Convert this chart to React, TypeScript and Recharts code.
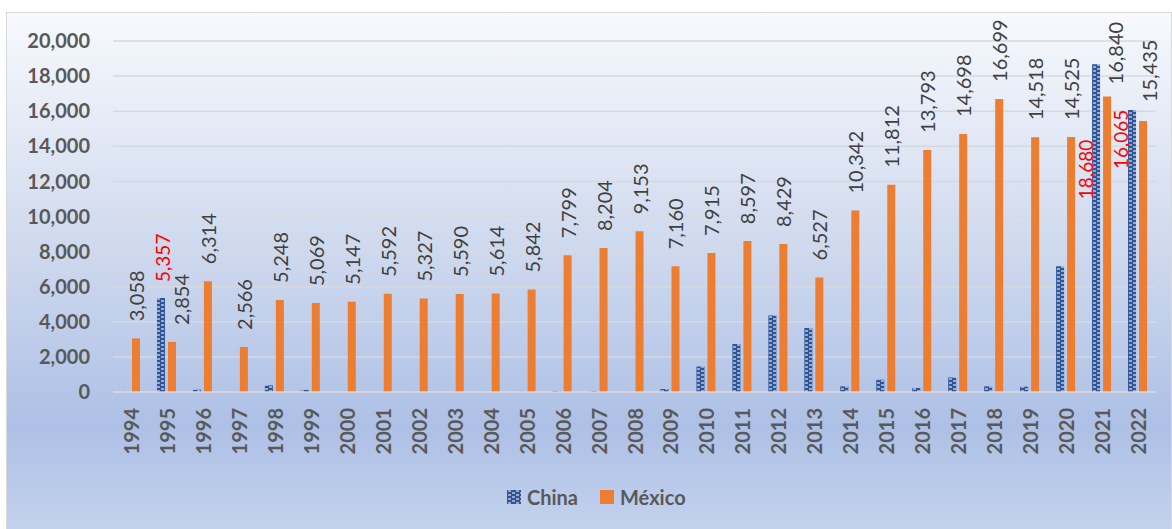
import React from 'react';
import { BarChart, Bar, XAxis, YAxis, CartesianGrid, LabelList, Legend } from 'recharts';

// Annual values, 1994–2022
const years = [
  '1994', '1995', '1996', '1997', '1998', '1999', '2000', '2001', '2002', '2003',
  '2004', '2005', '2006', '2007', '2008', '2009', '2010', '2011', '2012', '2013',
  '2014', '2015', '2016', '2017', '2018', '2019', '2020', '2021', '2022',
];

const china = [
  20, 5357, 130, 10, 380, 120, 0, 0, 10, 5,
  5, 10, 60, 60, 10, 170, 1450, 2735, 4365, 3650,
  320, 700, 230, 830, 320, 300, 7160, 18680, 16065,
];

const mexico = [
  3058, 2854, 6314, 2566, 5248, 5069, 5147, 5592, 5327, 5590,
  5614, 5842, 7799, 8204, 9153, 7160, 7915, 8597, 8429, 6527,
  10342, 11812, 13793, 14698, 16699, 14518, 14525, 16840, 15435,
];

const yTicks = [0, 2000, 4000, 6000, 8000, 10000, 12000, 14000, 16000, 18000, 20000];

// Years whose China value is annotated in red
const chinaLabelled = ['1995', '2021', '2022'];

const data = years.map((year, i) => ({
  year,
  china: china[i],
  mexico: mexico[i],
  chinaNote: chinaLabelled.includes(year) ? year : null,
}));

const FONT = 'Lato, "Noto Sans", sans-serif';
const BLUE = '#2F5597';
const ORANGE = '#ED7D31';

const fmt = (v: number) => v.toLocaleString('en-US');

// Placement of the red annotations relative to the top centre of each bar
const chinaLabelOffset: Record<string, { dx: number; dy: number }> = {
  '1995': { dx: 2, dy: -16 },
  '2021': { dx: -11, dy: 135 },
  '2022': { dx: -12, dy: 59 },
};

// México labels nudged sideways where a red annotation sits next to them
const mexicoLabelOffset: Record<string, { dx: number; dy: number }> = {
  '1995': { dx: 9, dy: 0 },
  '2021': { dx: 7.5, dy: 5 },
  '2022': { dx: 5.5, dy: -2 },
};

const YearTick = (props: any) => {
  const { x, y, payload } = props;
  return (
    <text
      transform={`translate(${x},${y + 8}) rotate(-90)`}
      textAnchor="end"
      dominantBaseline="central"
      fontFamily={FONT}
      fontSize={20}
      fontWeight={700}
      fill="#595959"
    >
      {payload.value}
    </text>
  );
};

const MexicoLabel = (props: any) => {
  const { x, y, width, value, index } = props;
  const off = mexicoLabelOffset[years[index]] || { dx: 0, dy: 0 };
  const cx = Number(x) + Number(width) / 2 + off.dx;
  const cy = Number(y) - 17 + off.dy;
  return (
    <text
      x={cx}
      y={cy}
      transform={`rotate(-90 ${cx} ${cy})`}
      textAnchor="start"
      dominantBaseline="central"
      fontFamily={FONT}
      fontSize={20}
      fill="#404040"
    >
      {fmt(Number(value))}
    </text>
  );
};

const ChinaLabel = (props: any) => {
  const { x, y, width, value } = props;
  if (value == null || value === '') return null;
  const year = String(value);
  const off = chinaLabelOffset[year];
  if (!off) return null;
  const amount = china[years.indexOf(year)];
  const cx = Number(x) + Number(width) / 2 + off.dx;
  const cy = Number(y) + off.dy;
  return (
    <text
      x={cx}
      y={cy}
      transform={`rotate(-90 ${cx} ${cy})`}
      textAnchor="start"
      dominantBaseline="central"
      fontFamily={FONT}
      fontSize={19}
      fill="#FF0000"
    >
      {fmt(amount)}
    </text>
  );
};

const PatternDef = ({ id }: { id: string }) => (
  <pattern id={id} patternUnits="userSpaceOnUse" width="8" height="4">
    <rect width="8" height="4" fill={BLUE} />
    <rect x="1" y="0.5" width="3" height="1" fill="#ffffff" />
    <rect x="5" y="2.5" width="3" height="1" fill="#ffffff" />
  </pattern>
);

const LegendContent = () => (
  <div
    style={{
      display: 'flex',
      alignItems: 'center',
      marginLeft: 507,
      paddingTop: 3,
      height: 30,
      fontFamily: FONT,
      fontSize: 20,
      fontWeight: 700,
      color: '#595959',
    }}
  >
    <svg width={14} height={14} style={{ marginRight: 6 }}>
      <defs>
        <PatternDef id="chinaLegendFill" />
      </defs>
      <rect width={14} height={14} fill="url(#chinaLegendFill)" />
    </svg>
    <span style={{ marginRight: 22 }}>China</span>
    <svg width={14} height={14} style={{ marginRight: 6 }}>
      <rect width={14} height={14} fill={ORANGE} />
    </svg>
    <span>México</span>
  </div>
);

export default function App() {
  return (
    <div
      style={{
        position: 'fixed',
        left: 0,
        top: 0,
        width: 1172,
        height: 529,
        overflow: 'hidden',
        fontFamily: FONT,
      }}
    >
      <div
        style={{
          position: 'absolute',
          left: 6,
          top: 12,
          width: 1166,
          height: 530,
          boxSizing: 'border-box',
          border: '1px solid #d9d9d9',
          background:
            'linear-gradient(180deg, #f7f9fd 0%, #e3e9f5 22%, #c8d4ec 52%, #adc0e5 78%, #c5d3ee 100%)',
        }}
      />
      <div style={{ position: 'absolute', left: 0, top: 0 }}>
        <BarChart
          width={1172}
          height={529}
          data={data}
          margin={{ top: 41, right: 16, bottom: 0, left: 0 }}
          barSize={8}
          barGap={3}
        >
          <defs>
            <PatternDef id="chinaFill" />
          </defs>
          <CartesianGrid vertical={false} stroke="#d6d9e0" strokeWidth={1.5} />
          <XAxis
            dataKey="year"
            interval={0}
            height={87}
            tickLine={false}
            axisLine={{ stroke: '#d6d9e0', strokeWidth: 1.5 }}
            tick={<YearTick />}
          />
          <YAxis
            domain={[0, 20000]}
            ticks={yTicks}
            width={113}
            tickLine={false}
            axisLine={false}
            tickMargin={17}
            tickFormatter={fmt}
            tick={{ fill: '#595959', fontSize: 20, fontWeight: 700, fontFamily: FONT }}
          />
          <Legend verticalAlign="bottom" height={50} content={<LegendContent />} wrapperStyle={{ left: 0, width: 1172 }} />
          <Bar dataKey="china" name="China" fill="url(#chinaFill)" isAnimationActive={false}>
            <LabelList dataKey="chinaNote" content={<ChinaLabel />} />
          </Bar>
          <Bar dataKey="mexico" name="México" fill={ORANGE} isAnimationActive={false}>
            <LabelList dataKey="mexico" content={<MexicoLabel />} />
          </Bar>
        </BarChart>
      </div>
    </div>
  );
}
